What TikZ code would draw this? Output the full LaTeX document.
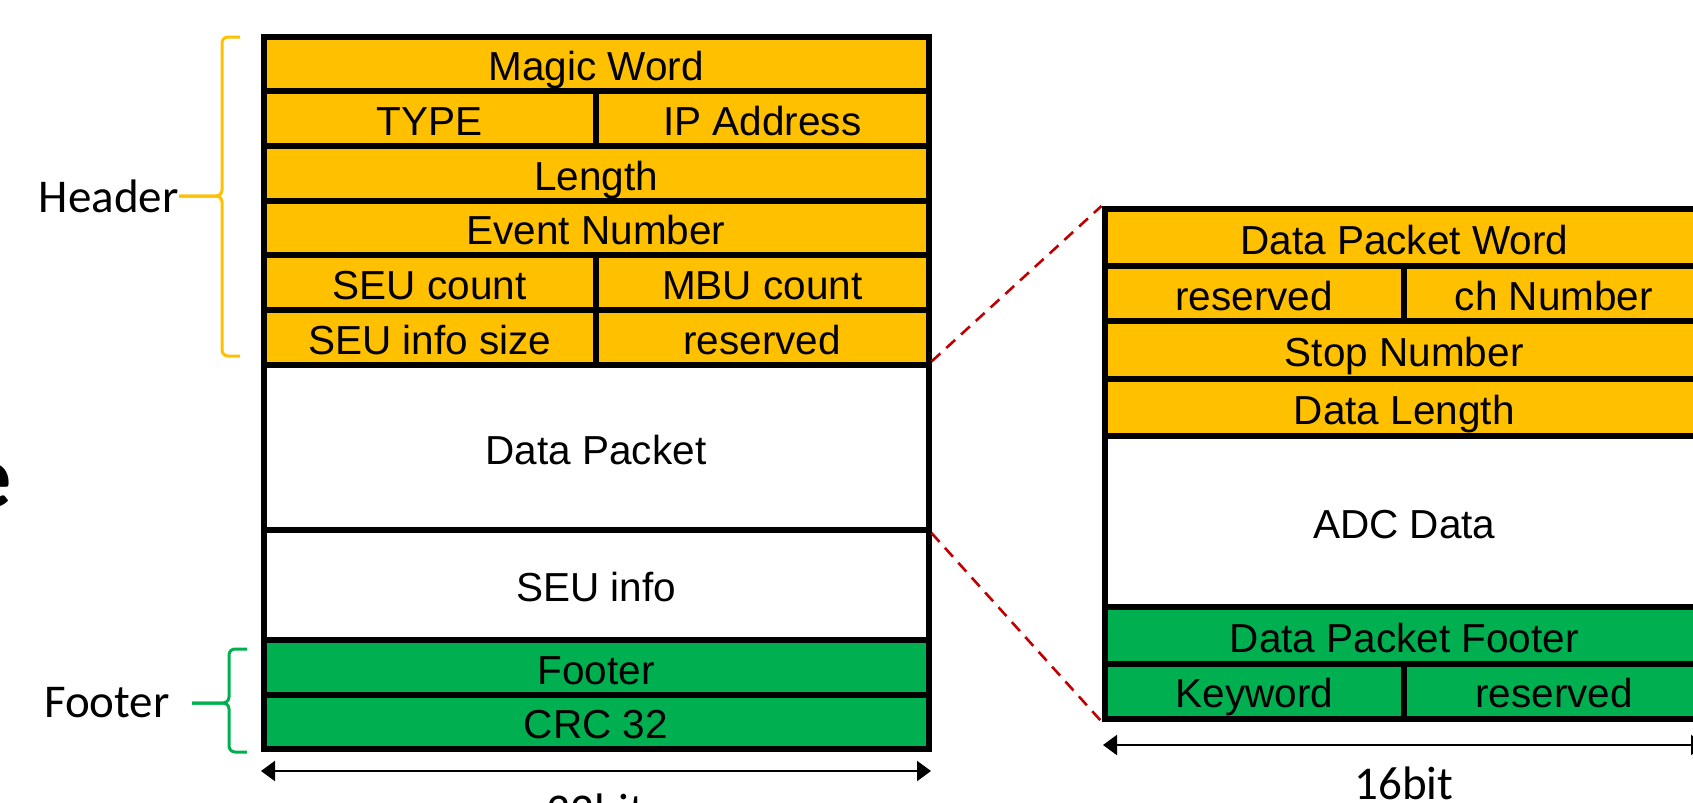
\documentclass[tikz,border=0pt]{standalone}
\usepackage{fontspec}
\setmainfont{Liberation Sans}
\newfontfamily\labelfont{Carlito}
\usetikzlibrary{arrows.meta}

\definecolor{hdr}{HTML}{FFC000}
\definecolor{ftr}{HTML}{00B050}
\definecolor{link}{HTML}{C00000}

\tikzset{
  field/.style={draw=black, line width=3pt, rectangle, inner sep=0pt,
    font=\fontsize{20.25pt}{24pt}\selectfont, text height=14.5pt, text depth=0pt},
  hfield/.style={field, fill=hdr},
  ffield/.style={field, fill=ftr},
  dfield/.style={field, fill=white},
  bracket/.style={line width=1.5pt, rounded corners=3pt},
  side/.style={font=\labelfont\fontsize{23.5pt}{28pt}\selectfont, inner sep=0pt},
  dimline/.style={line width=1.1pt, {Triangle[length=7pt,width=10pt]}-{Triangle[length=7pt,width=10pt]}},
  zoomline/.style={draw=link, line width=1.3pt, dash pattern=on 6pt off 4pt},
}

% \fieldcell{name}{style}{x1}{y1}{x2}{y2}{text}: a cell whose border runs along x1..x2, y1..y2
\newcommand\fieldcell[7]{%
  \pgfmathsetmacro\cellw{(#5-#3)*0.5}%
  \pgfmathsetmacro\cellh{(#6-#4)*0.5}%
  \node[#2, minimum width=\cellw pt, minimum height=\cellh pt] (#1)
    at ({(#3+#5)/2},{(#4+#6)/2}) {\raisebox{-1.2pt}{#7}};}

\begin{document}
\begin{tikzpicture}[x=0.5pt,y=-0.5pt]
\useasboundingbox (0,0) rectangle (1693,803);
\clip (0,0) rectangle (1693,803);

% edge of a large heading to the left
\node[font=\labelfont\bfseries\fontsize{45pt}{54pt}\selectfont, inner sep=0pt, anchor=base east] (title) at (12,507) {e};

% 32-bit event frame
\fieldcell{mw}{hfield}{263.5}{36.5}{928.5}{91.2}{Magic Word}
\fieldcell{type}{hfield}{263.5}{91.2}{596}{145.8}{TYPE}
\fieldcell{ip}{hfield}{596}{91.2}{928.5}{145.8}{IP Address}
\fieldcell{len}{hfield}{263.5}{145.8}{928.5}{200.5}{Length}
\fieldcell{evt}{hfield}{263.5}{200.5}{928.5}{255.2}{Event Number}
\fieldcell{seu}{hfield}{263.5}{255.2}{596}{309.8}{SEU count}
\fieldcell{mbu}{hfield}{596}{255.2}{928.5}{309.8}{MBU count}
\fieldcell{size}{hfield}{263.5}{309.8}{596}{364.5}{SEU info size}
\fieldcell{res}{hfield}{596}{309.8}{928.5}{364.5}{reserved}
\fieldcell{pkt}{dfield}{263.5}{364.5}{928.5}{530}{Data Packet}
\fieldcell{info}{dfield}{263.5}{530}{928.5}{640}{SEU info}
\fieldcell{foot}{ffield}{263.5}{640}{928.5}{694.5}{Footer}
\fieldcell{crc}{ffield}{263.5}{694.5}{928.5}{749}{CRC 32}

% 16-bit data packet
\fieldcell{dpw}{hfield}{1104.5}{209}{1704}{266}{Data Packet Word}
\fieldcell{rsv}{hfield}{1104.5}{266}{1404}{321}{reserved}
\fieldcell{ch}{hfield}{1404}{266}{1704}{321}{ch Number}
\fieldcell{stop}{hfield}{1104.5}{321}{1704}{378.5}{Stop Number}
\fieldcell{dlen}{hfield}{1104.5}{378.5}{1704}{436}{Data Length}
\fieldcell{adc}{dfield}{1104.5}{436}{1704}{607}{ADC Data}
\fieldcell{dpf}{ffield}{1104.5}{607}{1704}{663.5}{Data Packet Footer}
\fieldcell{kw}{ffield}{1104.5}{663.5}{1404}{718.5}{Keyword}
\fieldcell{rsv2}{ffield}{1404}{663.5}{1704}{718.5}{reserved}

% expansion of the data packet
\draw[zoomline] (pkt.north east) -- (dpw.north west);
\draw[zoomline] (pkt.south east) -- (kw.south west);

% header and footer brackets
\node[side, anchor=east] (hdrlbl) at (179,196) {Header};
\draw[bracket, hdr] (240,37) -- (222,37) -- (222,196) -- (hdrlbl.east);
\draw[bracket, hdr] (hdrlbl.east) -- (222,196) -- (222,356) -- (240,356);

\node[side, anchor=east] (ftrlbl) at (170,703) {Footer};
\coordinate (ftick) at (192,703);
\draw[bracket, ftr] (247,649) -- (229,649) -- (229,703) -- (ftick);
\draw[bracket, ftr] (ftick) -- (229,703) -- (229,752) -- (247,752);

% width markers
\coordinate (w32a) at (261,771);
\coordinate (w32b) at (931,771);
\draw[dimline] (w32a) -- (w32b);
\node[side, anchor=base] (w32) at (596,826) {32bit};

\coordinate (w16a) at (1103,745);
\coordinate (w16b) at (1705,745);
\draw[dimline] (w16a) -- (w16b);
\node[side, anchor=base] (w16) at (1404,799) {16bit};
\end{tikzpicture}
\end{document}
